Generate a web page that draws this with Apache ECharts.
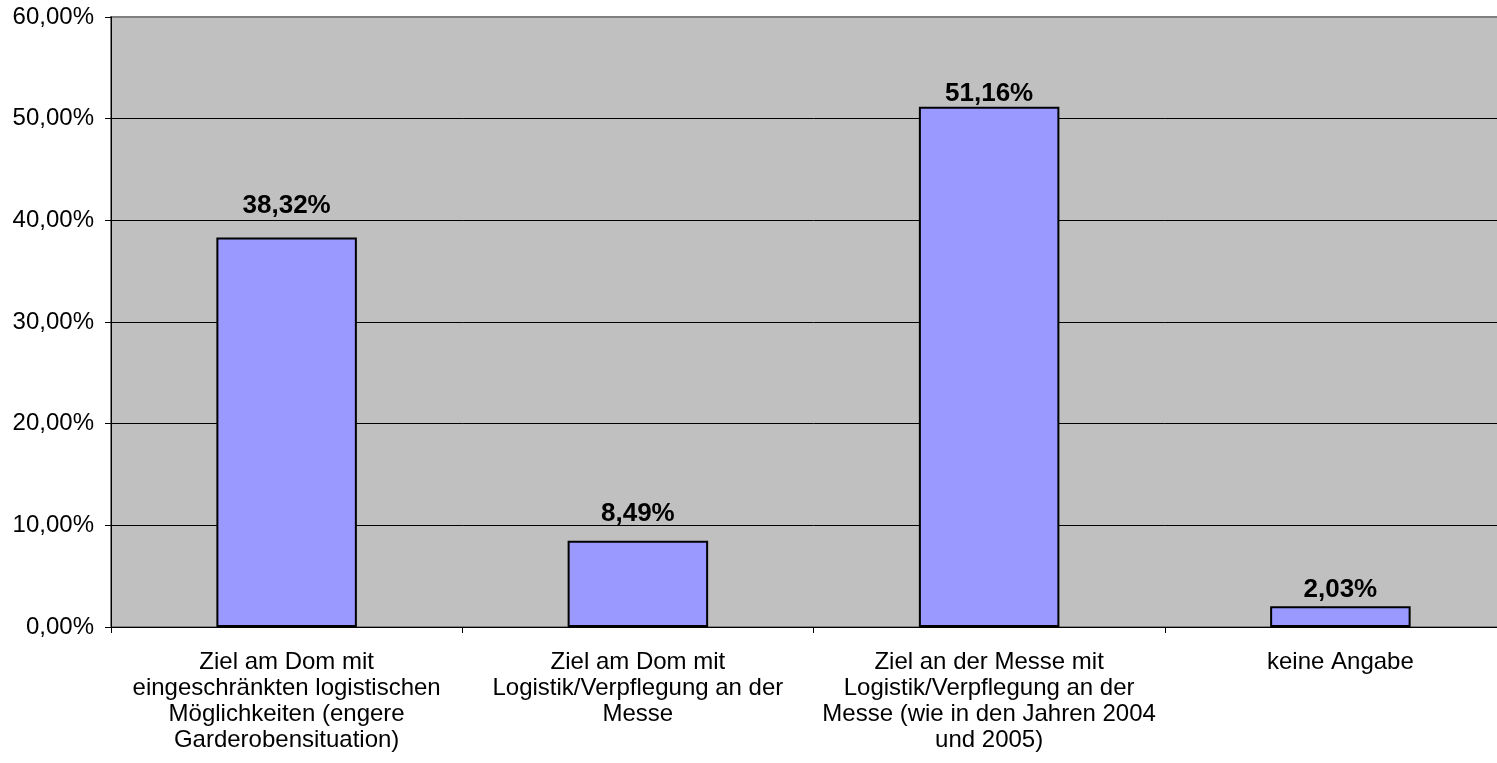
<!DOCTYPE html>
<html><head><meta charset="utf-8">
<script src="https://cdn.jsdelivr.net/npm/echarts@6/dist/echarts.min.js"></script>
<style>html,body{margin:0;padding:0;background:#fff;overflow:hidden}#c{width:1518px;height:763px}</style>
</head><body><div id="c"></div>
<script>
const categories = [
  "Ziel am Dom mit\neingeschränkten logistischen\nMöglichkeiten (engere\nGarderobensituation)",
  "Ziel am Dom mit\nLogistik/Verpflegung an der\nMesse",
  "Ziel an der Messe mit\nLogistik/Verpflegung an der\nMesse (wie in den Jahren 2004\nund 2005)",
  "keine Angabe"
];
const values = [38.32, 8.49, 51.16, 2.03];
const yMin = 0, yMax = 60, yStep = 10;

// label gaps above each bar (layout only)
const labelGaps = [19, 14, 0, 4];

const fmt = v => v.toFixed(2).replace('.', ',') + '%';
const chart = echarts.init(document.getElementById('c'));
chart.setOption({
  animation: false,
  textStyle: { fontFamily: 'Liberation Sans, Arial, sans-serif' },
  grid: { left: 111, top: 17, right: 2, bottom: 136, show: true,
          backgroundColor: '#C0C0C0', borderColor: '#808080', borderWidth: 2 },
  xAxis: {
    type: 'category', data: categories,
    axisLine: { lineStyle: { color: '#000', width: 1 } },
    axisTick: { show: true, length: 6, lineStyle: { color: '#000' } },
    axisLabel: { color: '#000', fontSize: 24, lineHeight: 26, margin: 22, interval: 0 }
  },
  yAxis: {
    type: 'value', min: yMin, max: yMax, interval: yStep,
    axisLine: { show: true, lineStyle: { color: '#000' } },
    axisTick: { show: true, length: 6, lineStyle: { color: '#000' } },
    splitLine: { showMaxLine: false, lineStyle: { color: '#000', width: 1 } },
    axisLabel: { color: '#000', fontSize: 24, margin: 17, formatter: v => fmt(v) }
  },
  series: [{
    type: 'bar', barWidth: '40%',
    data: values.map((v, i) => ({ value: v, label: { distance: labelGaps[i] } })),
    itemStyle: { color: '#9999FF', borderColor: '#000', borderWidth: 2 },
    label: { show: true, position: 'top', color: '#000', fontSize: 26,
             fontWeight: 'bold', formatter: p => fmt(p.value) }
  }]
});
</script></body></html>
